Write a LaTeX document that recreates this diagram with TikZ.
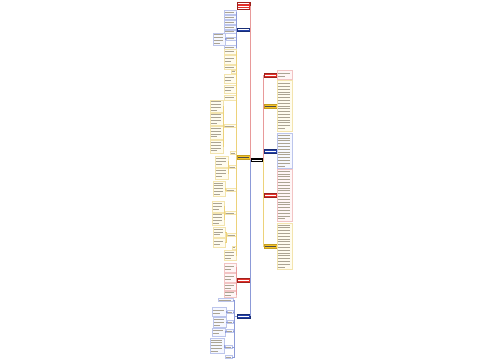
\documentclass[tikz,border=0pt]{standalone}
\usetikzlibrary{calc}
\definecolor{cred}{HTML}{E2302A}
\definecolor{cblue}{HTML}{2340A8}
\definecolor{cyel}{HTML}{F5C428}
\definecolor{lred}{HTML}{E89A9A}
\definecolor{lblue}{HTML}{8C9AD8}
\definecolor{lyel}{HTML}{EDD27A}
\definecolor{bred}{HTML}{F2C4C4}
\definecolor{bblue}{HTML}{BCC5EC}
\definecolor{byel}{HTML}{F3E4AE}
\definecolor{fred}{HTML}{FFF6F6}
\definecolor{fblue}{HTML}{F6F8FF}
\definecolor{fyel}{HTML}{FFFCEF}
\definecolor{txtc}{HTML}{ABA493}
\tikzset{
  box/.style={inner sep=0pt, outer sep=0pt, line width=0.35pt},
  yleaf/.style={box, draw=byel, fill=fyel},
  rleaf/.style={box, draw=bred, fill=fred},
  bleaf/.style={box, draw=bblue, fill=fblue},
  txt/.style={draw=txtc, line width=0.8pt},
  mnode/.style={box, minimum width=13, minimum height=3.6},
  rmain/.style={mnode, fill=cred, draw=cred!70!black},
  bmain/.style={mnode, fill=cblue, draw=cblue!70!black},
  ymain/.style={mnode, fill=cyel, draw=cyel!80!black},
  ylink/.style={draw=lyel, line width=0.4pt},
  rlink/.style={draw=lred, line width=0.4pt},
  blink/.style={draw=lblue, line width=0.4pt},
  trunkr/.style={draw=lred, line width=0.9pt},
  trunkb/.style={draw=lblue, line width=0.9pt},
  trunky/.style={draw=lyel, line width=0.9pt},
  wtxt/.style={draw=white, line width=0.8pt},
  dtxt/.style={draw=black!70, line width=0.8pt}
}
\newcommand\lf[6]{%
  \node[#6, anchor=north west, minimum width=#4, minimum height=#5] (#1) at (#2,#3) {};
  \pgfmathtruncatemacro\lfn{max(1,floor((#5-0.8)/2.8))}%
  \pgfmathsetmacro\lfo{(#5-\lfn*2.8)/2}%
  \foreach \i in {1,...,\lfn}{%
    \pgfmathsetmacro\lfl{ifthenelse(and(\i==\lfn,\lfn>1),0.55,0.9)}%
    \draw[txt] ($(#1.north west)+(0.7,{\lfo+(\i-0.5)*2.8})$) -- ++({\lfl*(#4-1.4)},0);
  }%
}
\begin{document}
\begin{tikzpicture}[x=1pt,y=-1pt]
\fill[white] (0,0) rectangle (500,360);
\useasboundingbox (0,0) rectangle (500,360);

% centre
\node[box, fill=black, minimum width=13, minimum height=4.5, anchor=west] (C) at (250,160) {};

% left main branches
\node[rmain, minimum height=7.5, anchor=north east] (L1) at (250,2) {};
\node[bmain, anchor=east] (L2) at (250,29.5) {};
\node[ymain, anchor=east] (L3) at (250,157) {};
\node[rmain, anchor=east] (L4) at (250,280) {};
\node[bmain, anchor=east] (L5) at (250,316) {};
% right main branches
\node[rmain, anchor=west] (R1) at (264,75) {};
\node[ymain, anchor=west] (R2) at (264,106) {};
\node[bmain, anchor=west] (R3) at (264,151) {};
\node[rmain, anchor=west] (R4) at (264,195) {};
\node[ymain, anchor=west] (R5) at (264,246) {};

% trunks
\draw[trunky] (C.west) |- (L3.east);
\draw[trunkr] (C.west) |- (L4.east);
\draw[trunkb] (C.west) |- (L5.east);
\draw[trunkb] (C.west) |- (L2.east);
\draw[trunkr] (C.west) |- (L1.east);
\draw[trunkb] (C.east) |- (R3.west);
\draw[trunky] (C.east) |- (R2.west);
\draw[trunkr] (C.east) |- (R4.west);
\draw[trunkr] (C.east) |- (R1.west);
\draw[trunky] (C.east) |- (R5.west);

% text strokes in main nodes
\draw[white, line width=0.9pt] ($(C.west)+(1.5,0)$) -- ($(C.east)+(-1.5,0)$);
\foreach \n in {L2,L4,L5,R1,R3,R4}
  \draw[wtxt] ($(\n.west)+(1.2,0)$) -- ($(\n.east)+(-1.2,0)$);
\foreach \n in {L3,R2,R5}
  \draw[dtxt] ($(\n.west)+(1.2,0)$) -- ($(\n.east)+(-1.2,0)$);
\foreach \k in {1,2,3}
  \draw[wtxt] ($(L1.north west)+(1.2,{\k*2.3-0.6})$) -- ++(10.6,0);

% right leaves
\lf{R1a}{277}{70.5}{15}{9}{rleaf}
\lf{R2a}{277}{80.5}{15}{51}{yleaf}
\lf{R3a}{277}{133}{15}{35}{bleaf}
\lf{R4a}{277}{169}{15}{52}{rleaf}
\lf{R5a}{277}{223}{15}{46}{yleaf}
\draw[rlink] (R1.east) -- (R1.east -| R1a.west);
\draw[ylink] (R2.east) -- (R2.east -| R2a.west);
\draw[blink] (R3.east) -- (R3.east -| R3a.west);
\draw[rlink] (R4.east) -- (R4.east -| R4a.west);
\draw[ylink] (R5.east) -- (R5.east -| R5a.west);

% L2 (blue) children
\lf{B1}{224}{10}{12}{4.3}{bleaf}
\lf{B2}{224}{15}{12}{4.3}{bleaf}
\lf{B3}{224}{20}{12}{4.3}{bleaf}
\lf{B4}{224}{25}{12}{4.3}{bleaf}
\lf{B5}{224}{30}{12}{3.5}{bleaf}
\lf{B6}{226}{37}{10}{3.2}{bleaf}
\lf{B6a}{213}{33}{12}{12}{bleaf}
\lf{B7}{224}{45.5}{12}{4}{bleaf}
\foreach \c in {B1,B2,B3,B4,B5,B6,B7}
  \draw[blink] (L2.west) -- ++(-0.6,0) |- (\c.east);
\draw[blink] (B6.west) -- ++(-0.5,0) |- (B6a.east);

% L3 (yellow) children
\lf{Y1}{224}{49}{12}{5}{yleaf}
\lf{Y2}{224}{55}{12}{9}{yleaf}
\lf{Y3}{224}{65}{12}{4}{yleaf}
\lf{Y4}{231}{70}{5}{3}{yleaf}
\lf{Y5}{224}{74}{12}{9}{yleaf}
\lf{Y6}{224}{85}{12}{8.5}{yleaf}
\lf{Y7}{224}{95}{12}{5}{yleaf}
\lf{Y8}{224}{124.5}{12}{3}{yleaf}
\lf{Y8a}{210}{100}{13}{12}{yleaf}
\lf{Y8b}{210}{113}{13}{12}{yleaf}
\lf{Y8c}{210}{126}{13}{13}{yleaf}
\lf{Y8d}{210}{140}{13}{13}{yleaf}
\lf{Y9}{230}{151.5}{6}{3}{yleaf}
\lf{Y10}{229}{165.5}{7}{3}{yleaf}
\lf{Y10a}{215}{156}{13}{11}{yleaf}
\lf{Y10b}{215}{168}{13}{11}{yleaf}
\lf{Y11}{226}{188.5}{10}{3}{yleaf}
\lf{Y11a}{213}{181}{12}{15}{yleaf}
\lf{Y12}{225}{211.5}{11}{3}{yleaf}
\lf{Y12a}{212}{201}{12}{11}{yleaf}
\lf{Y12b}{212}{213}{12}{12}{yleaf}
\lf{Y13}{227}{233.5}{9}{3}{yleaf}
\lf{Y13a}{213}{227}{12}{10}{yleaf}
\lf{Y13b}{213}{238}{12}{9}{yleaf}
\lf{Y14}{232}{246}{4}{3}{yleaf}
\lf{Y15}{224}{250.5}{12}{10}{yleaf}
\foreach \c in {Y1,Y2,Y3,Y4,Y5,Y6,Y7,Y8,Y9,Y10,Y11,Y12,Y13,Y14,Y15}
  \draw[ylink] (L3.west) -- ++(-0.6,0) |- (\c.east);
\foreach \c in {Y8a,Y8b,Y8c,Y8d}
  \draw[ylink] (Y8.west) -- ++(-0.5,0) |- (\c.east);
\foreach \c in {Y10a,Y10b}
  \draw[ylink] (Y10.west) -- ++(-0.5,0) |- (\c.east);
\draw[ylink] (Y11.west) -- ++(-0.5,0) |- (Y11a.east);
\foreach \c in {Y12a,Y12b}
  \draw[ylink] (Y12.west) -- ++(-0.5,0) |- (\c.east);
\foreach \c in {Y13a,Y13b}
  \draw[ylink] (Y13.west) -- ++(-0.5,0) |- (\c.east);

% L4 (red) children
\lf{Q1}{224}{263}{12}{9}{rleaf}
\lf{Q2}{224}{273}{12}{9}{rleaf}
\lf{Q3}{224}{283}{12}{7}{rleaf}
\lf{Q4}{224}{291}{12}{6.5}{rleaf}
\foreach \c in {Q1,Q2,Q3,Q4}
  \draw[rlink] (L4.west) -- ++(-0.6,0) |- (\c.east);

% L5 (blue) children
\lf{D1}{218}{298.5}{15}{3}{bleaf}
\lf{D2}{227}{310.5}{6}{3}{bleaf}
\lf{D2a}{212}{307}{14}{9}{bleaf}
\lf{D3}{227}{320.5}{6}{3}{bleaf}
\lf{D3a}{213}{317}{13}{10.5}{bleaf}
\lf{D4}{226}{329.5}{7}{3}{bleaf}
\lf{D4a}{212}{328}{13}{8.5}{bleaf}
\lf{D5}{225}{345.5}{7}{3}{bleaf}
\lf{D5a}{210}{338}{14}{15}{bleaf}
\lf{D6}{225}{355.5}{7}{3}{bleaf}
\foreach \c in {D1,D2,D3,D4,D5,D6}
  \draw[blink] (L5.west) -- ++(-2.8,0) |- (\c.east);
\draw[blink] (D2.west) -- ++(-0.5,0) |- (D2a.east);
\draw[blink] (D3.west) -- ++(-0.5,0) |- (D3a.east);
\draw[blink] (D4.west) -- ++(-0.5,0) |- (D4a.east);
\draw[blink] (D5.west) -- ++(-0.5,0) |- (D5a.east);
\end{tikzpicture}
\end{document}
